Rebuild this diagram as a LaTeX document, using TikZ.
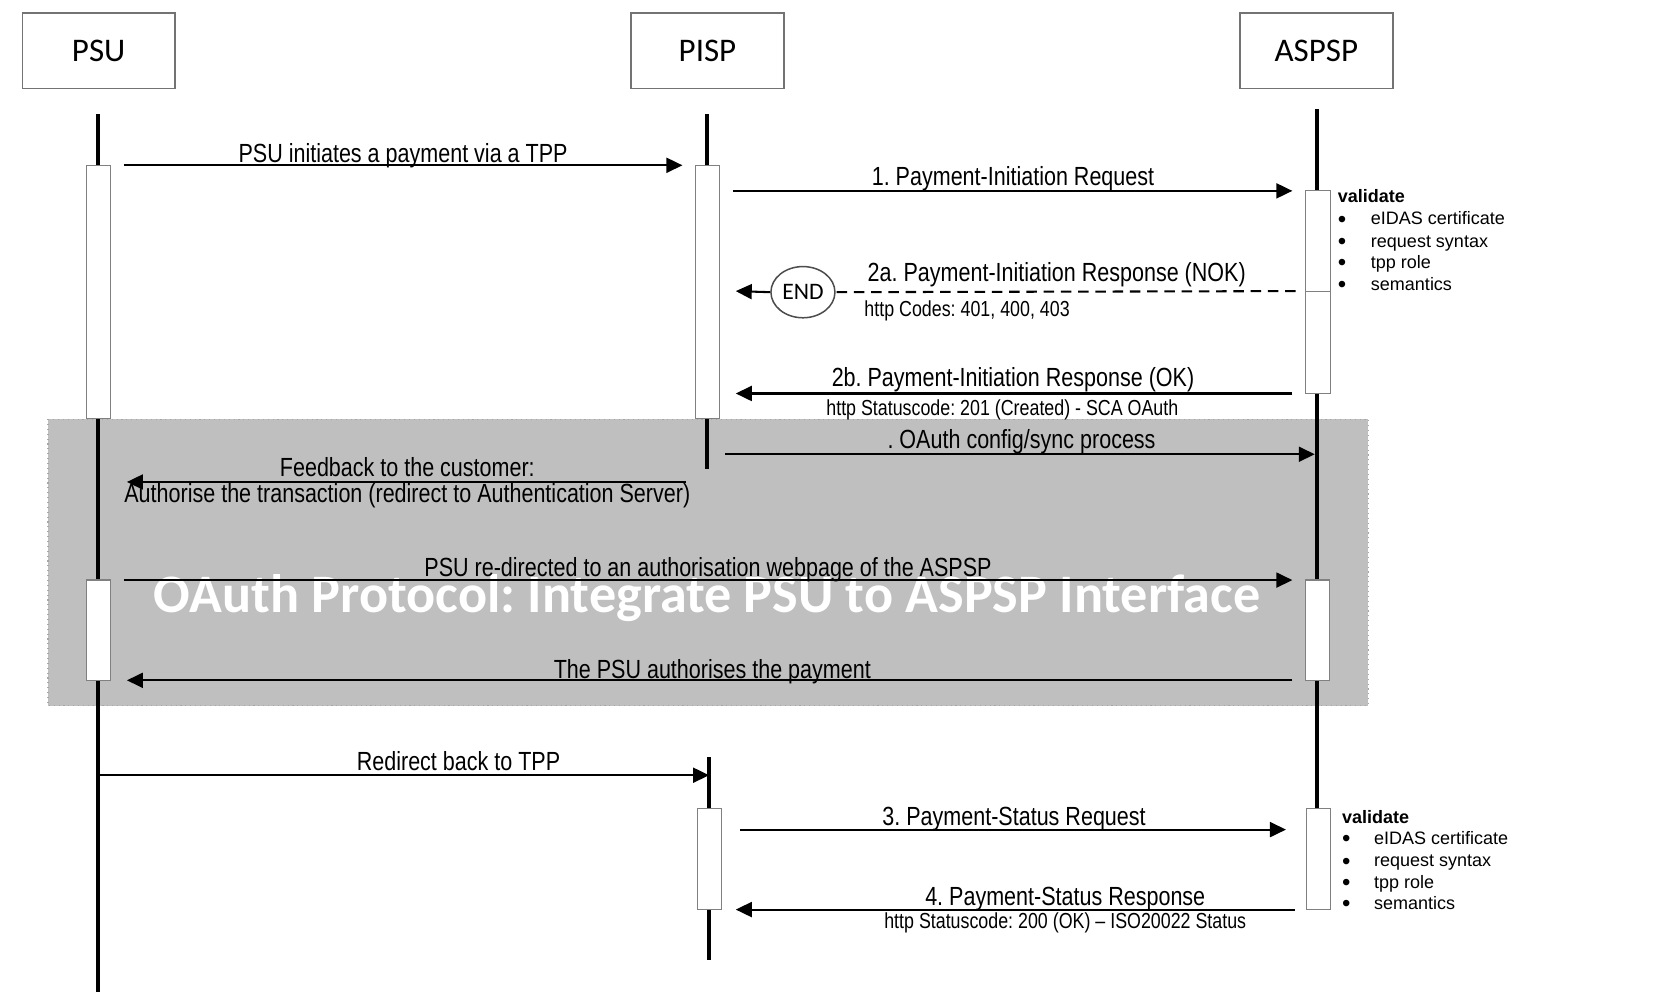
\documentclass[tikz,border=0pt]{standalone}
\usepackage{fontspec}
\setmainfont{Liberation Sans}
\newfontfamily\narrowfont{Liberation Sans}[FakeStretch=0.82]
\newfontfamily\calfont{Carlito}
\usetikzlibrary{arrows.meta,shapes.geometric}
\frenchspacing
\begin{document}
\begin{tikzpicture}[x=0.01cm,y=-0.01cm,
  actor/.style={draw=black!55, line width=0.45pt, minimum width=1.43cm, minimum height=0.71cm, inner sep=0pt,
    font=\calfont\fontsize{8.8}{10}\selectfont},
  life/.style={line width=0.9pt},
  actbox/.style={draw=black!50, fill=white, line width=0.3pt, inner sep=0pt, minimum width=0.23cm},
  msg/.style={line width=0.55pt, -{Triangle[length=0.15cm,width=0.14cm]}},
  lbl/.style={font=\narrowfont\fontsize{7}{8}\selectfont, inner sep=0pt, anchor=base},
  sublbl/.style={font=\narrowfont\fontsize{5.8}{7}\selectfont, inner sep=0pt, anchor=base},
  note/.style={font=\fontsize{4.8}{6}\selectfont, inner sep=0pt, anchor=base west},
  bul/.style={font=\fontsize{6.4}{7}\selectfont, inner sep=0pt, anchor=base west},
  endnode/.style={draw=black!70, ellipse, line width=0.4pt, minimum width=0.6cm, minimum height=0.48cm, inner sep=0pt,
    font=\calfont\fontsize{6.3}{7}\selectfont},
  watermark/.style={font=\calfont\bfseries\fontsize{14.45}{16}\selectfont, text=white, inner sep=0pt}
]
\useasboundingbox[fill=white] (0,0) rectangle (1568,930);

% participants
\node[actor] (psu) at (92.5,47.5) {PSU};
\node[actor] (pisp) at (663.5,47.5) {PISP};
\node[actor] (aspsp) at (1234.5,47.5) {ASPSP};

% OAuth region
\fill[black!25] (45,393) rectangle (1283,662);
\draw[black!35, line width=0.3pt, densely dotted] (45,393) rectangle (1283,662);
\node[watermark] (wm) at (663,561) {OAuth Protocol: Integrate PSU to ASPSP Interface};

% lifeline end points
\coordinate (psuT) at (92,107);
\coordinate (psuB) at (92,930);
\coordinate (pispT) at (663,107);
\coordinate (pispB) at (663,440);
\coordinate (pispT2) at (665,710);
\coordinate (pispB2) at (665,900);
\coordinate (aspT) at (1235,102);
\coordinate (aspB) at (1235,758);

\draw[life] (psuT) -- (psuB);
\draw[life] (pispT) -- (pispB);
\draw[life] (pispT2) -- (pispB2);
\draw[life] (aspT) -- (aspB);

% activation boxes
\node[actbox, minimum height=2.37cm] (psuA1) at (92.5,273.5) {};
\node[actbox, minimum height=2.37cm] (pispA1) at (663.5,273.5) {};
\node[actbox, minimum height=1.90cm, minimum width=0.24cm] (aspA1) at (1236,274) {};
\draw[black!50, line width=0.3pt] (1224,273) -- (1248,273);
\node[actbox, minimum height=0.94cm] (psuA2) at (92.5,591) {};
\node[actbox, minimum height=0.94cm] (aspA2) at (1235.5,591) {};
\node[actbox, minimum height=0.95cm] (pispA3) at (665.5,805.5) {};
\node[actbox, minimum height=0.95cm] (aspA3) at (1236.5,805.5) {};

% message end points
\coordinate (m1s) at (116,155);  \coordinate (m1e) at (640,155);
\coordinate (m2s) at (687,179);  \coordinate (m2e) at (1212,179);
\coordinate (m2as) at (1215,273); \coordinate (m2ae) at (690,273);
\coordinate (m2bs) at (1212,369); \coordinate (m2be) at (690,369);
\coordinate (mos) at (680,426);  \coordinate (moe) at (1233,426);
\coordinate (mfs) at (643,452);  \coordinate (mfe) at (119,452);
\coordinate (mrs) at (116,544);  \coordinate (mre) at (1212,544);
\coordinate (mas) at (1212,638); \coordinate (mae) at (119,638);
\coordinate (mbs) at (92,727);   \coordinate (mbe) at (665,727);
\coordinate (m3s) at (694,778);  \coordinate (m3e) at (1206,778);
\coordinate (m4s) at (1214,853); \coordinate (m4e) at (690,853);

\node[endnode] (end) at (753,274) {END};

\draw[msg] (m1s) -- (m1e);
\draw[msg] (m2s) -- (m2e);
\draw[line width=0.55pt, dash pattern=on 2.8pt off 1.8pt] (m2as) -- (end.east);
\draw[msg] (end.west) -- (m2ae);
\draw[msg] (m2bs) -- (m2be);
\draw[msg] (mos) -- (moe);
\draw[msg] (mfs) -- (mfe);
\draw[msg] (mrs) -- (mre);
\draw[msg] (mas) -- (mae);
\draw[msg] (mbs) -- (mbe);
\draw[msg] (m3s) -- (m3e);
\draw[msg] (m4s) -- (m4e);

% labels
\node[lbl] (l1) at (378,152) {PSU initiates a payment via a TPP};
\node[lbl] (l2) at (950,174) {1. Payment-Initiation Request};
\node[lbl] (l2a) at (991,264) {2a. Payment-Initiation Response (NOK)};
\node[sublbl, anchor=base west] (l2asub) at (810,297) {http Codes: 401, 400, 403};
\node[lbl] (l2b) at (950,362) {2b. Payment-Initiation Response (OK)};
\node[sublbl] (l2bsub) at (940,390) {http Statuscode: 201 (Created) - SCA OAuth};
\node[lbl] (lo) at (958,421) {. OAuth config/sync process};
\node[lbl] (lf1) at (382,447) {Feedback to the customer:};
\node[lbl] (lf2) at (382,471) {Authorise the transaction (redirect to Authentication Server)};
\node[lbl] (lr) at (664,541) {PSU re-directed to an authorisation webpage of the ASPSP};
\node[lbl] (la) at (668,636) {The PSU authorises the payment};
\node[lbl] (lb) at (430,723) {Redirect back to TPP};
\node[lbl] (l3) at (951,774) {3. Payment-Status Request};
\node[lbl] (l4) at (999,849) {4. Payment-Status Response};
\node[sublbl] (l4sub) at (999,871) {http Statuscode: 200 (OK) – ISO20022 Status};

% validate notes
\node[note, font=\bfseries\fontsize{4.8}{6}\selectfont] (v1) at (1254,190) {validate};
\node[bul] (v1b1) at (1254,213) {•};
\node[note] (v1t1) at (1285,211) {eIDAS certificate};
\node[bul] (v1b2) at (1254,234) {•};
\node[note] (v1t2) at (1285,232) {request syntax};
\node[bul] (v1b3) at (1254,254) {•};
\node[note] (v1t3) at (1285,252) {tpp role};
\node[bul] (v1b4) at (1254,274) {•};
\node[note] (v1t4) at (1285,272) {semantics};

\node[note, font=\bfseries\fontsize{4.8}{6}\selectfont] (v2) at (1258,772) {validate};
\node[bul] (v2b1) at (1258,794) {•};
\node[note] (v2t1) at (1288,792) {eIDAS certificate};
\node[bul] (v2b2) at (1258,815) {•};
\node[note] (v2t2) at (1288,813) {request syntax};
\node[bul] (v2b3) at (1258,835) {•};
\node[note] (v2t3) at (1288,833) {tpp role};
\node[bul] (v2b4) at (1258,855) {•};
\node[note] (v2t4) at (1288,853) {semantics};
\end{tikzpicture}
\end{document}
